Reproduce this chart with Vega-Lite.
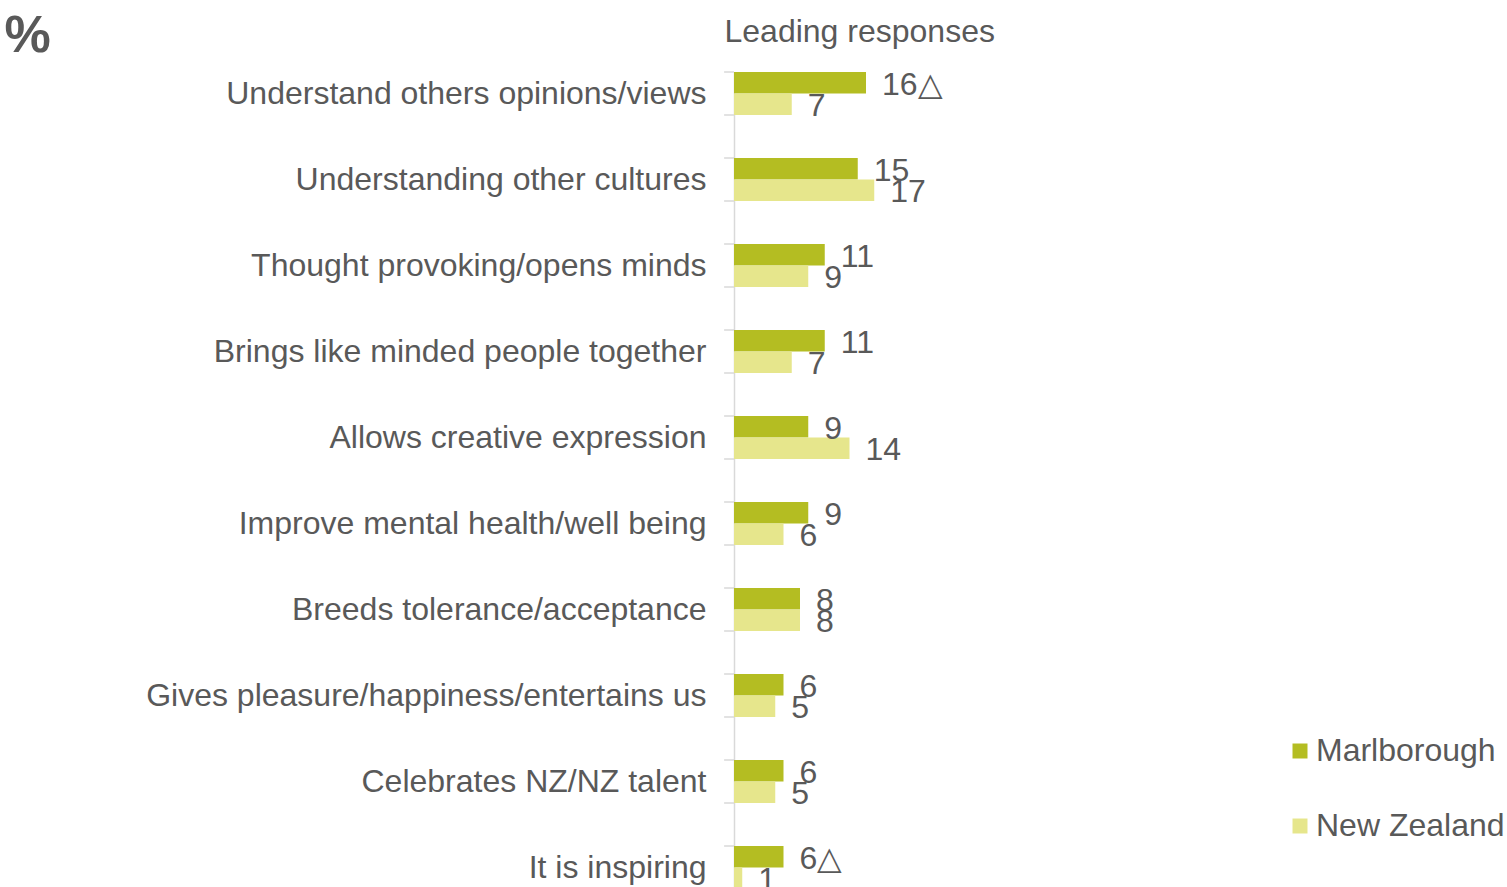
{
  "$schema": "https://vega.github.io/schema/vega-lite/v6.json",
  "autosize": {"type": "none"},
  "width": 165,
  "height": 817,
  "padding": {"left": 734, "top": 72, "right": 608, "bottom": 0},
  "background": "white",
  "config": {
    "font": "Liberation Sans",
    "view": {"stroke": null},
    "scale": {"bandPaddingInner": 0.5, "bandPaddingOuter": 0, "offsetBandPaddingInner": 0, "offsetBandPaddingOuter": 0},
    "axisY": {
      "titleAngle": 0, "titleX": -730, "titleY": -21, "titleAlign": "left", "titleBaseline": "alphabetic",
      "titleFontSize": 52, "titleFontWeight": "bold", "titleColor": "#595959",
      "labelFontSize": 32, "labelColor": "#595959", "labelPadding": 28, "labelLimit": 0,
      "ticks": false, "domainColor": "#D9D9D9", "domainWidth": 1.5, "grid": false
    },
    "axisX": {
      "domain": false, "ticks": false, "labels": false, "grid": false,
      "titleX": -10, "titleY": -31, "titleAlign": "left", "titleBaseline": "alphabetic",
      "titleFontSize": 32, "titleFontWeight": "normal", "titleColor": "#595959"
    }
  },
  "data": {"values": [
    {"cat": "Understand others opinions/views", "series": "Marlborough", "value": 16, "label": "16△"},
    {"cat": "Understand others opinions/views", "series": "New Zealand", "value": 7, "label": "7"},
    {"cat": "Understanding other cultures", "series": "Marlborough", "value": 15, "label": "15"},
    {"cat": "Understanding other cultures", "series": "New Zealand", "value": 17, "label": "17"},
    {"cat": "Thought provoking/opens minds", "series": "Marlborough", "value": 11, "label": "11"},
    {"cat": "Thought provoking/opens minds", "series": "New Zealand", "value": 9, "label": "9"},
    {"cat": "Brings like minded people together", "series": "Marlborough", "value": 11, "label": "11"},
    {"cat": "Brings like minded people together", "series": "New Zealand", "value": 7, "label": "7"},
    {"cat": "Allows creative expression", "series": "Marlborough", "value": 9, "label": "9"},
    {"cat": "Allows creative expression", "series": "New Zealand", "value": 14, "label": "14"},
    {"cat": "Improve mental health/well being", "series": "Marlborough", "value": 9, "label": "9"},
    {"cat": "Improve mental health/well being", "series": "New Zealand", "value": 6, "label": "6"},
    {"cat": "Breeds tolerance/acceptance", "series": "Marlborough", "value": 8, "label": "8"},
    {"cat": "Breeds tolerance/acceptance", "series": "New Zealand", "value": 8, "label": "8"},
    {"cat": "Gives pleasure/happiness/entertains us", "series": "Marlborough", "value": 6, "label": "6"},
    {"cat": "Gives pleasure/happiness/entertains us", "series": "New Zealand", "value": 5, "label": "5"},
    {"cat": "Celebrates NZ/NZ talent", "series": "Marlborough", "value": 6, "label": "6"},
    {"cat": "Celebrates NZ/NZ talent", "series": "New Zealand", "value": 5, "label": "5"},
    {"cat": "It is inspiring", "series": "Marlborough", "value": 6, "label": "6△"},
    {"cat": "It is inspiring", "series": "New Zealand", "value": 1, "label": "1"}
  ]},
  "layer": [
    {
      "transform": [{"filter": "datum.series === 'Marlborough'"}],
      "mark": {"type": "rule", "color": "#D9D9D9", "strokeWidth": 1.5},
      "encoding": {
        "y": {"field": "cat", "type": "nominal", "sort": null, "bandPosition": 0, "title": "%"},
        "x": {"datum": -1.2, "type": "quantitative", "scale": {"domain": [0, 20]}, "title": "Leading responses", "axis": {"orient": "top"}},
        "x2": {"datum": 0}
      }
    },
    {
      "transform": [{"filter": "datum.series === 'Marlborough'"}],
      "mark": {"type": "rule", "color": "#D9D9D9", "strokeWidth": 1.5},
      "encoding": {
        "y": {"field": "cat", "type": "nominal", "sort": null, "bandPosition": 1, "title": "%"},
        "x": {"datum": -1.2, "type": "quantitative", "scale": {"domain": [0, 20]}, "title": "Leading responses", "axis": {"orient": "top"}},
        "x2": {"datum": 0}
      }
    },
    {
      "mark": {"type": "bar"},
      "encoding": {
        "y": {"field": "cat", "type": "nominal", "sort": null, "title": "%"},
        "yOffset": {"field": "series", "type": "nominal", "sort": ["Marlborough", "New Zealand"]},
        "x": {"field": "value", "type": "quantitative", "scale": {"domain": [0, 20]}, "title": "Leading responses", "axis": {"orient": "top"}},
        "color": {
          "field": "series", "type": "nominal",
          "scale": {"domain": ["Marlborough", "New Zealand"], "range": ["#B4BD22", "#E6E68C"]},
          "legend": {
            "orient": "none", "legendX": 550, "legendY": 663, "title": null, "padding": 0,
            "symbolType": "square", "symbolSize": 225, "symbolStrokeWidth": 0, "labelLimit": 0,
            "labelFontSize": 32, "labelColor": "#595959", "labelOffset": 0, "rowPadding": 43
          }
        }
      }
    },
    {
      "mark": {"type": "text", "align": "left", "baseline": "middle", "dx": 16, "dy": 2, "fontSize": 32, "color": "#595959"},
      "encoding": {
        "y": {"field": "cat", "type": "nominal", "sort": null, "title": "%"},
        "yOffset": {"field": "series", "type": "nominal", "sort": ["Marlborough", "New Zealand"]},
        "x": {"field": "value", "type": "quantitative", "scale": {"domain": [0, 20]}, "title": "Leading responses", "axis": {"orient": "top"}},
        "text": {"field": "label"}
      }
    }
  ]
}
